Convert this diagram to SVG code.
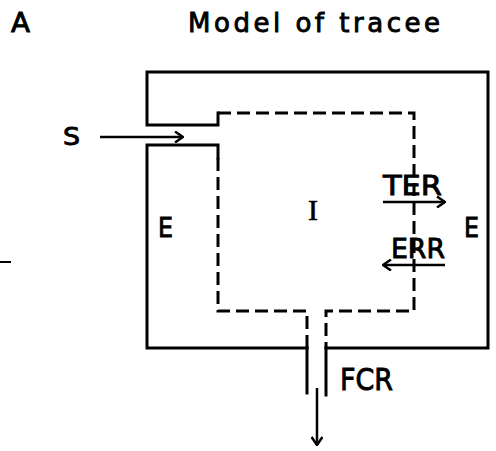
<svg xmlns="http://www.w3.org/2000/svg" width="496" height="451" viewBox="0 0 496 451">
<defs>
<style>
.s{fill:none;stroke:#000;stroke-width:3;stroke-linecap:square;stroke-linejoin:miter}
.d{fill:none;stroke:#000;stroke-width:3;stroke-dasharray:13 6}
.a{fill:none;stroke:#000;stroke-width:2.5}
.t{font-family:"DejaVu Sans","Liberation Sans",sans-serif;fill:#000;stroke:#000;stroke-width:0.9}
</style>
<marker id="ah" viewBox="0 0 10 12" refX="9" refY="6" markerWidth="10" markerHeight="12" markerUnits="userSpaceOnUse" orient="auto">
<path d="M1,0.5 L9,6 L1,11.5" fill="none" stroke="#000" stroke-width="2.5"/>
</marker>
</defs>
<rect width="496" height="451" fill="#fff"/>
<text class="t" x="11" y="32" font-size="26" textLength="19" lengthAdjust="spacingAndGlyphs">A</text>
<text class="t" x="188" y="32" font-size="26" textLength="252" lengthAdjust="spacing">Model of tracee</text>
<g id="outer">
<path class="s" d="M218,113 L218,125 L147,125 L147,72 L488,72 L488,348 L326,348"/>
<path class="s" d="M307,348 L147,348 L147,145 L218,145 L218,158"/>
</g>
<g id="inner">
<path class="d" d="M218,113 L414,113 L414,311 L326,311 L326,348"/>
<path class="d" d="M218,158 L218,311 L307,311 L307,348"/>
<text x="313" y="220" font-size="30" text-anchor="middle" font-family="Liberation Serif,serif" stroke="#000" stroke-width="0.6">I</text>
</g>
<g id="outlet">
<path class="s" d="M307,348 L307,393"/>
<path class="s" d="M326,348 L326,395"/>
</g>
<g id="labels">
<text class="t" x="63" y="145" font-size="25" textLength="17" lengthAdjust="spacingAndGlyphs">S</text>
<text class="t" x="158" y="237" font-size="27" textLength="15" lengthAdjust="spacingAndGlyphs">E</text>
<text class="t" x="464" y="237" font-size="27" textLength="15" lengthAdjust="spacingAndGlyphs">E</text>
<text class="t" x="383" y="195" font-size="27" textLength="59" lengthAdjust="spacingAndGlyphs">TER</text>
<text class="t" x="391" y="258" font-size="27" textLength="54" lengthAdjust="spacingAndGlyphs">ERR</text>
<text class="t" x="340" y="390" font-size="30" textLength="53" lengthAdjust="spacingAndGlyphs">FCR</text>
</g>
<g id="connectors">
<line class="a" x1="100" y1="137" x2="183" y2="137" marker-end="url(#ah)"/>
<line class="a" x1="383" y1="202" x2="445" y2="202" marker-end="url(#ah)"/>
<line class="a" x1="445" y1="265" x2="383" y2="265" marker-end="url(#ah)"/>
<line class="a" x1="317" y1="388" x2="317" y2="445" marker-end="url(#ah)"/>
</g>
<line x1="0" y1="262" x2="11" y2="262" stroke="#000" stroke-width="2"/>
</svg>
